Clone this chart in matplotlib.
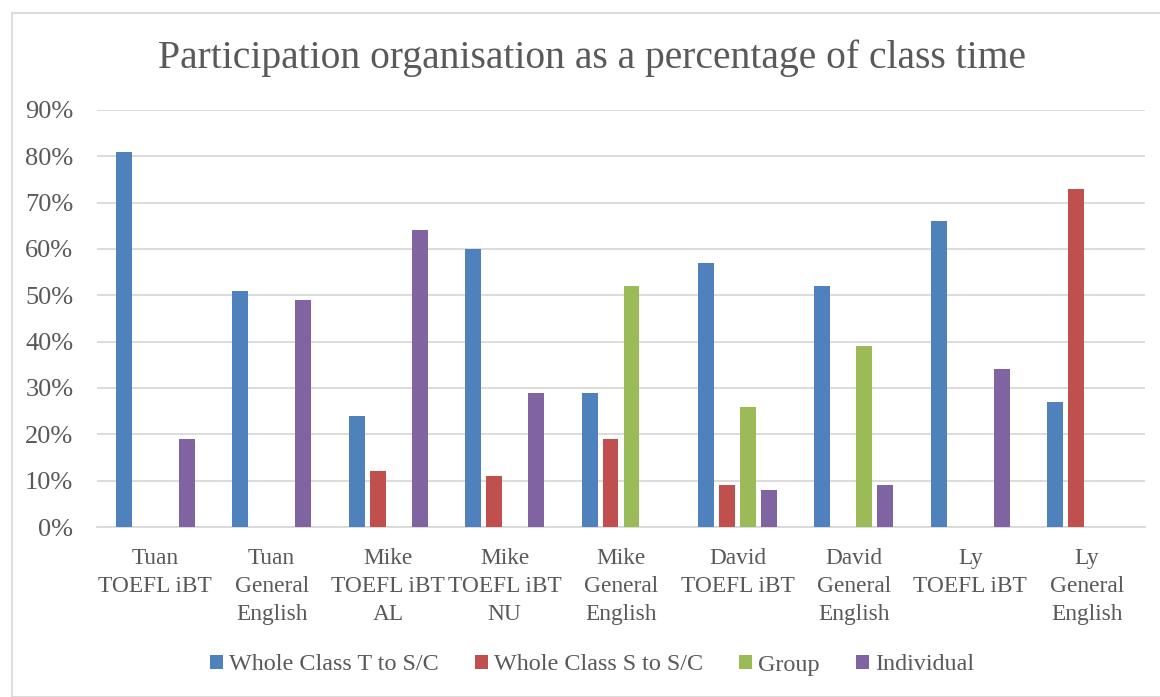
import matplotlib
matplotlib.use("Agg")
import matplotlib.pyplot as plt
import numpy as np
from matplotlib.patches import Rectangle
from matplotlib.ticker import FuncFormatter

categories = ["Tuan\nTOEFL iBT", "Tuan\nGeneral\nEnglish", "Mike\nTOEFL iBT\nAL",
              "Mike\nTOEFL iBT\nNU", "Mike\nGeneral\nEnglish", "David\nTOEFL iBT",
              "David\nGeneral\nEnglish", "Ly\nTOEFL iBT", "Ly\nGeneral\nEnglish"]
whole_t = [81, 51, 24, 60, 29, 57, 52, 66, 27]
whole_s = [0, 0, 12, 11, 19, 9, 0, 0, 73]
group = [0, 0, 0, 0, 52, 26, 39, 0, 0]
individual = [19, 49, 64, 29, 0, 8, 9, 34, 0]
series_names = ["Whole Class T to S/C", "Whole Class S to S/C", "Group", "Individual"]
colors = ["#4F81BD", "#C0504D", "#9BBB59", "#8064A2"]

plt.rcParams['font.family'] = ['Liberation Serif', 'DejaVu Serif']
text_color = "#595959"

fig = plt.figure(figsize=(11.6, 6.97), dpi=100)
ax = fig.add_axes([97/1160, 1 - 527/697, 1048/1160, 417/697])

x = np.arange(len(categories))
step = 0.18
width = 0.137
for i, (vals, name, c) in enumerate(zip([whole_t, whole_s, group, individual], series_names, colors)):
    v = np.array(vals, dtype=float)
    ax.bar(x + (i - 1.5) * step, v / 100.0, width=width, color=c, label=name, zorder=3)

ax.set_xlim(-0.5, len(categories) - 0.5)
ax.set_ylim(0, 0.9)
ax.set_yticks(np.arange(0, 0.91, 0.1))
ax.yaxis.set_major_formatter(FuncFormatter(lambda v, p: f"{v*100:.0f}%"))
ax.grid(axis='y', color="#D9D9D9", linewidth=1.3, zorder=0)
ax.set_xticks(x)
ax.set_xticklabels(categories, fontsize=16.8, color=text_color, linespacing=1.45, va='top')
ax.tick_params(axis='y', labelsize=19, labelcolor=text_color, length=0, pad=17)
ax.tick_params(axis='x', length=0, pad=15)
for s in ["top", "right", "left"]:
    ax.spines[s].set_visible(False)
ax.spines["bottom"].set_color("#D9D9D9")
ax.spines["bottom"].set_linewidth(1.3)

fig.text(592/1160, 1 - 58/697, "Participation organisation as a percentage of class time",
         ha='center', va='center', fontsize=28.5, color=text_color)

leg = fig.legend(loc='center', bbox_to_anchor=(592/1160, 1 - 665/697), ncol=4, frameon=False,
                 fontsize=17.4, handlelength=0.54, handleheight=0.54, handletextpad=0.25,
                 columnspacing=1.5, labelcolor=text_color)

fig.patches.append(Rectangle((12/1160, 0), 1.0, 1 - 13/697, transform=fig.transFigure,
                             fill=False, edgecolor="#D9D9D9", linewidth=1.3))

fig.savefig("out.png", dpi=100, facecolor="white")
